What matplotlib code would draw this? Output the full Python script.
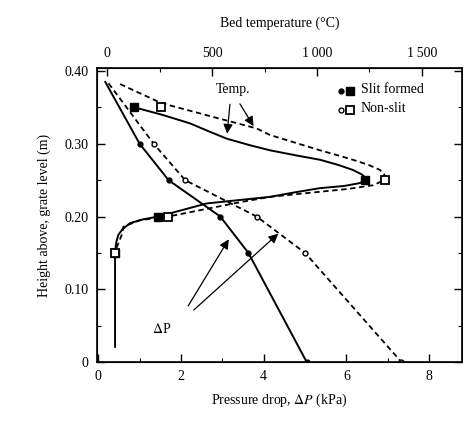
import numpy as np
import matplotlib.pyplot as plt
from matplotlib.ticker import MultipleLocator

plt.rcParams['font.family'] = ['Liberation Serif', 'DejaVu Serif']
plt.rcParams['mathtext.fontset'] = 'stix'

# pressure drop profiles (kPa) vs height (m); first entry is the line start (no marker)
h_dp_slit = [0.385, 0.30, 0.25, 0.20, 0.15, 0.0]
dp_slit = [0.17, 1.0, 1.7, 2.95, 3.63, 5.04]
h_dp_non = [0.383, 0.30, 0.25, 0.20, 0.15, 0.0]
dp_non = [0.25, 1.34, 2.10, 3.83, 5.0, 7.33]

# bed temperature (C) - measured points
h_t_pts = [0.35, 0.25, 0.20, 0.15]
t_slit_pts = [130, 1229, 244, 38]
t_non_pts = [257, 1324, 292, 38]

# temperature curves
h_t_slit_line = [0.35, 0.340, 0.328, 0.317, 0.307, 0.298, 0.291, 0.284, 0.278,
                 0.271, 0.264, 0.258, 0.254, 0.249, 0.246, 0.242, 0.239,
                 0.233, 0.227, 0.218, 0.20, 0.196, 0.191, 0.183, 0.175,
                 0.165, 0.152, 0.021]
t_slit_line = [130, 260, 395, 485, 570, 680, 776, 900, 1014,
               1100, 1171, 1212, 1229, 1222, 1205, 1130, 1014,
               890, 776, 475, 244, 170, 110, 75, 54,
               44, 38, 38]
h_t_non_line = [0.382, 0.356, 0.338, 0.321, 0.312, 0.302, 0.291, 0.284, 0.278,
                0.271, 0.264, 0.258, 0.254, 0.248, 0.243, 0.238, 0.234,
                0.227, 0.220, 0.212, 0.20, 0.195, 0.186, 0.175, 0.152]
t_non_line = [62, 257, 490, 713, 776, 890, 1014, 1100, 1171,
              1245, 1300, 1320, 1324, 1305, 1268, 1150, 1014,
              776, 640, 500, 292, 157, 78, 70, 38]

fig = plt.figure(figsize=(4.63, 4.28), dpi=100)
ax = fig.add_axes([0.2095, 0.154, 0.788, 0.687])
ax2 = ax.twiny()

dash = (0, (3, 2))
ax.plot(dp_slit, h_dp_slit, color='black', lw=1.4)
ax.plot(dp_non, h_dp_non, color='black', lw=1.3, linestyle=dash)
ax.plot(dp_slit[1:], h_dp_slit[1:], 'o', color='black', ms=3.5, linestyle='none')
ax.plot(dp_non[1:], h_dp_non[1:], 'o', color='black', mfc='white', mew=1.0,
        ms=3.5, linestyle='none')

ax2.plot(t_slit_line, h_t_slit_line, color='black', lw=1.4)
ax2.plot(t_non_line, h_t_non_line, color='black', lw=1.3, linestyle=dash)
ax2.plot(t_slit_pts, h_t_pts, 's', color='black', ms=6, linestyle='none')
ax2.plot(t_non_pts, h_t_pts, 's', color='black', mfc='white', mew=1.3, ms=6,
         linestyle='none')

ax.set_xlim(-0.03, 8.79)
ax.set_ylim(0, 0.404)
ax2.set_xlim(-48, 1690)

ax.xaxis.set_minor_locator(MultipleLocator(1))
ax.yaxis.set_minor_locator(MultipleLocator(0.05))
ax2.xaxis.set_minor_locator(MultipleLocator(250))

ax.set_yticks([0, 0.1, 0.2, 0.3, 0.4])
ax.set_yticklabels(['0', '0.10', '0.20', '0.30', '0.40'])
ax.set_xticks([0, 2, 4, 6, 8])
ax.set_xticklabels(['0', '2', '4', '6', '8'])
ax2.set_xticks([0, 500, 1000, 1500])
ax2.set_xticklabels(['0', '500', '1\u2009000', '1\u2009500'])

for a in (ax, ax2):
    a.tick_params(which='major', direction='in', length=6, width=1.0,
                  labelsize=10, pad=6)
    a.tick_params(which='minor', direction='in', length=3, width=0.8)
ax.tick_params(right=True, which='both')
for s in ax.spines.values():
    s.set_linewidth(1.2)

ax.set_xlabel(r'Pressure drop, $\mathit{\Delta P}$ (kPa)', fontsize=10, labelpad=6)
ax.set_ylabel('Height above, grate level (m)', fontsize=10, labelpad=10)
ax2.set_xlabel('Bed temperature (\u00b0C)', fontsize=10, labelpad=14)

# annotations
arrow = dict(arrowstyle='-|>', color='black', lw=0.9, mutation_scale=14)
ax.text(3.26, 0.374, 'Temp.', fontsize=10, ha='center', va='center')
ax.annotate('', xy=(3.11, 0.310), xytext=(3.19, 0.358), arrowprops=arrow)
ax.annotate('', xy=(3.79, 0.321), xytext=(3.39, 0.358), arrowprops=arrow)
ax.text(1.54, 0.046, r'$\mathit{\Delta}$P', fontsize=10, ha='center', va='center')
ax.annotate('', xy=(3.19, 0.172), xytext=(2.14, 0.074), arrowprops=arrow)
ax.annotate('', xy=(4.40, 0.179), xytext=(2.26, 0.069), arrowprops=arrow)

# legend
ax.plot([5.88], [0.372], 'o', color='black', ms=3.5)
ax.plot([6.08], [0.372], 's', color='black', ms=6)
ax.plot([5.88], [0.347], 'o', color='black', mfc='white', ms=3.5)
ax.plot([6.08], [0.347], 's', color='black', mfc='white', mew=1.3, ms=6)
ax.text(6.35, 0.374, 'Slit formed', fontsize=10, va='center')
ax.text(6.35, 0.349, 'Non-slit', fontsize=10, va='center')

fig.savefig('out.png', dpi=100)
